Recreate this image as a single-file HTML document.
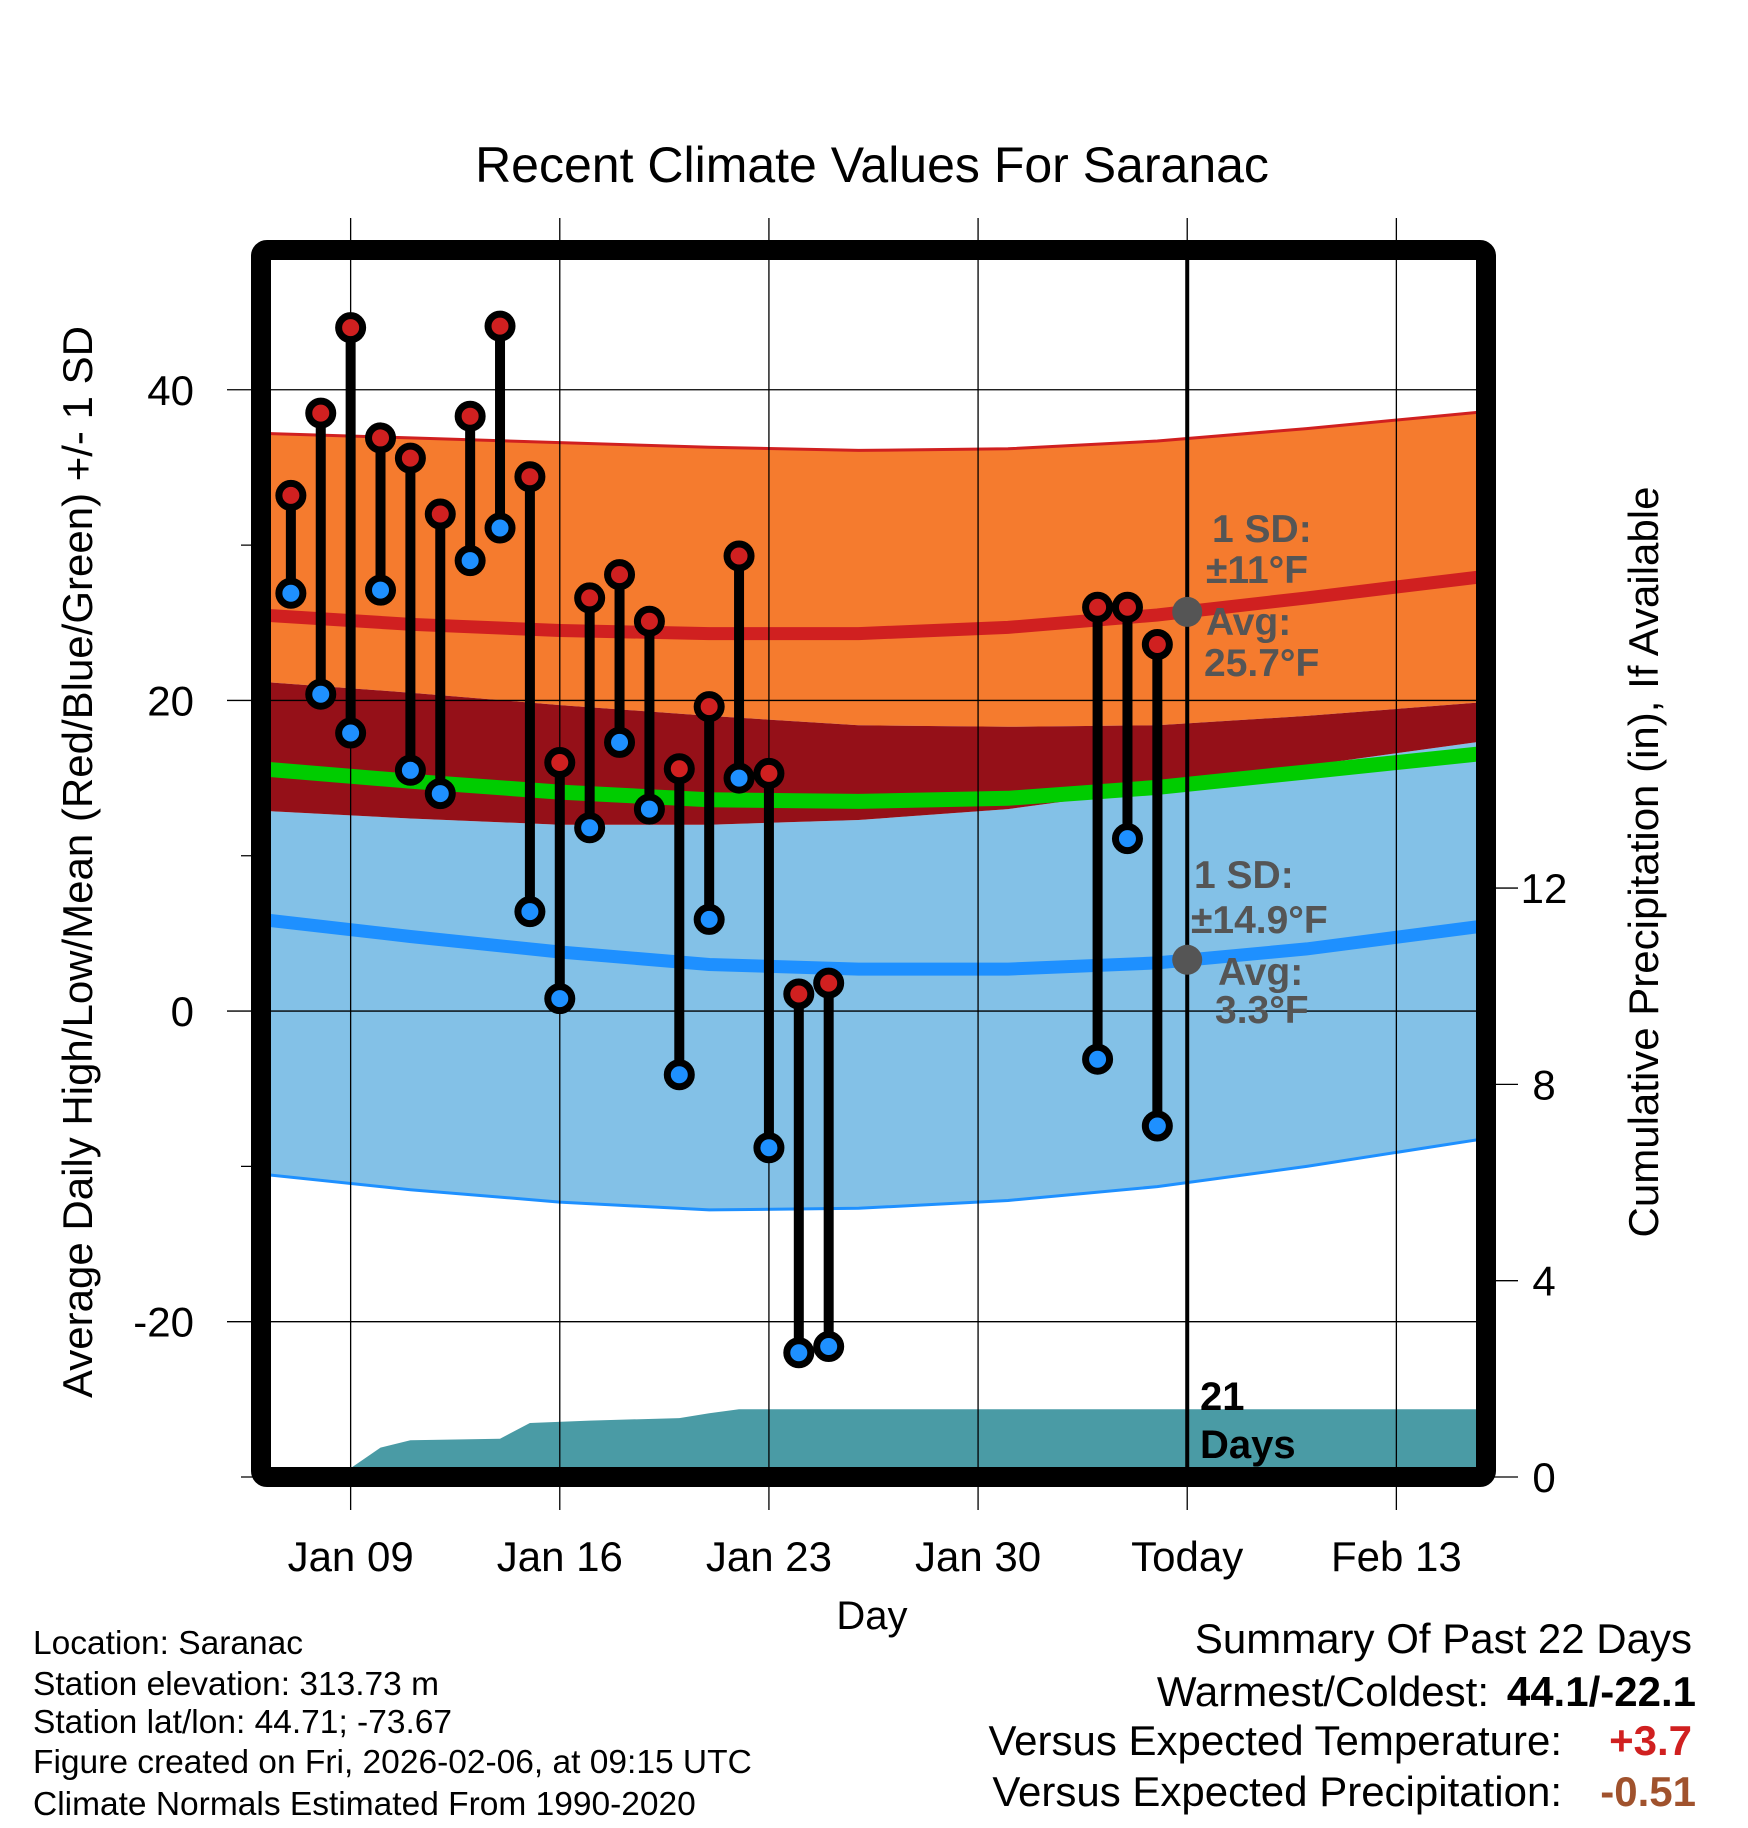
<!DOCTYPE html>
<html><head><meta charset="utf-8"><style>
html,body{margin:0;padding:0;background:#fff;}
svg{display:block;font-family:"Liberation Sans",Arial,sans-serif;}
</style></head><body>
<svg id="chart" width="1748" height="1828" viewBox="0 0 1748 1828" xmlns="http://www.w3.org/2000/svg">
<defs><clipPath id="plotclip"><rect x="271" y="260" width="1205" height="1207"/></clipPath></defs>
<g id="bands" clip-path="url(#plotclip)"></g>
<g id="grid"></g>
<g id="marks"></g>
<rect x="261" y="250" width="1225" height="1227" rx="6" fill="none" stroke="#000" stroke-width="20" stroke-linejoin="round"/>
<g id="labels"></g>
<text x="872" y="182" font-size="50" text-anchor="middle">Recent Climate Values For Saranac</text>
<text transform="translate(92,862) rotate(-90)" font-size="42" text-anchor="middle">Average Daily High/Low/Mean (Red/Blue/Green) +/- 1 SD</text>
<text transform="translate(1658,862) rotate(-90)" font-size="42" text-anchor="middle">Cumulative Precipitation (in), If Available</text>
<text x="872" y="1629" font-size="40" text-anchor="middle">Day</text>
<g font-size="33.5" fill="#000">
<text x="33" y="1654">Location: Saranac</text>
<text x="33" y="1695">Station elevation: 313.73 m</text>
<text x="33" y="1733">Station lat/lon: 44.71; -73.67</text>
<text x="33" y="1773">Figure created on Fri, 2026-02-06, at 09:15 UTC</text>
<text x="33" y="1815">Climate Normals Estimated From 1990-2020</text>
</g>
<g font-size="42" text-anchor="end">
<text x="1692" y="1653">Summary Of Past 22 Days</text>
<text x="1489" y="1706">Warmest/Coldest:</text>
<text x="1696" y="1706" font-weight="bold">44.1/-22.1</text>
<text x="1562" y="1755">Versus Expected Temperature:</text>
<text x="1692" y="1755" font-weight="bold" fill="#d02020">+3.7</text>
<text x="1562" y="1806">Versus Expected Precipitation:</text>
<text x="1696" y="1806" font-weight="bold" fill="#a0522d">-0.51</text>
</g>
<g font-size="39" font-weight="bold" fill="#555">
<text x="1212" y="542">1 SD:</text>
<text x="1206" y="583">±11°F</text>
<text x="1206" y="635">Avg:</text>
<text x="1204" y="676">25.7°F</text>
<text x="1194" y="888">1 SD:</text>
<text x="1191" y="933">±14.9°F</text>
<text x="1218" y="985">Avg:</text>
<text x="1215" y="1023">3.3°F</text>
<text x="1200" y="1410" fill="#000" font-size="40">21</text>
<text x="1200" y="1458" fill="#000" font-size="40">Days</text>
</g>
</svg>
<script>
// ---- data ----
const normDays = [-3, 2, 7, 12, 17, 22, 27, 32, 38];
const hiAvg = [25.5, 24.9, 24.5, 24.3, 24.3, 24.7, 25.5, 26.6, 28.0];
const hiUpper = [37.2, 36.9, 36.6, 36.3, 36.1, 36.2, 36.7, 37.5, 38.6];
const hiLower = [21.2, 20.5, 19.7, 19.0, 18.4, 18.3, 18.4, 19.0, 19.9];
const loAvg = [5.9, 4.8, 3.8, 3.0, 2.7, 2.7, 3.1, 4.0, 5.5];
const loUpper = [12.9, 12.4, 12.0, 12.0, 12.3, 13.0, 14.3, 15.8, 17.4];
const loLower = [-10.5, -11.5, -12.3, -12.8, -12.7, -12.2, -11.3, -10.0, -8.2];
const meanLine = [15.6, 14.8, 14.1, 13.6, 13.5, 13.7, 14.4, 15.4, 16.6];
const obsDays = [-2,-1,0,1,2,3,4,5,6,7,8,9,10,11,12,13,14,15,16,25,26,27];
const obsHigh = [33.2,38.5,44.0,36.9,35.6,32.0,38.3,44.1,34.4,16.0,26.6,28.1,25.1,15.6,19.6,29.3,15.3,1.1,1.8,26.0,26.0,23.6];
const obsLow = [26.9,20.4,17.9,27.1,15.5,14.0,29.0,31.1,6.4,0.8,11.8,17.3,13.0,-4.1,5.9,15.0,-8.8,-22.0,-21.6,-3.1,11.1,-7.4];
const precipDays = [-3,-0.5,0,1,2,5,6,8,11,12,13,38];
const precipVals = [0,0,0.18,0.6,0.75,0.78,1.1,1.15,1.2,1.3,1.38,1.38];
const xTickDays = [0,7,14,21,28,35];
const xTickLabels = ["Jan 09","Jan 16","Jan 23","Jan 30","Today","Feb 13"];
const yTicks = [40,20,0,-20];
const yMinor = [30,10,-10,-30];
const pTicks = [0,4,8,12];
const todayDay = 28;
const todayHi = 25.7, todayLo = 3.3;

// ---- axes ----
const X0=261, X1=1486, Y0=250, Y1=1477;
const xS = d => X0 + (d - (-3)) / 41 * (X1 - X0);
const yS = v => Y1 - (v - (-30)) / 79 * (Y1 - Y0);
const pS = v => Y1 - v / 25 * (Y1 - Y0);
const NS='http://www.w3.org/2000/svg';
function mk(tag, attrs, parent){const e=document.createElementNS(NS,tag);for(const k in attrs)e.setAttribute(k,attrs[k]);parent.appendChild(e);return e;}
const bands=document.getElementById('bands'), grid=document.getElementById('grid'), marks=document.getElementById('marks'), labels=document.getElementById('labels');
const line = arr => normDays.map((d,i)=>xS(d).toFixed(1)+','+yS(arr[i]).toFixed(1)).join(' ');
const poly = (a,b) => line(a)+' '+normDays.map((d,i)=>[d,i]).reverse().map(([d,i])=>xS(d).toFixed(1)+','+yS(b[i]).toFixed(1)).join(' ');

let e;
e=mk('polygon',{points:poly(hiUpper,hiLower),fill:'#f57b2e'},bands);


e=mk('polygon',{points:poly(loUpper,loLower),fill:'#83c1e7'},bands);


e=mk('polygon',{points:poly(hiLower,loUpper),fill:'#951018'},bands);


e=mk('polyline',{points:line(hiUpper),fill:'none',stroke:'#d02020','stroke-width':3},bands);


e=mk('polyline',{points:line(loLower),fill:'none',stroke:'#1e90ff','stroke-width':3},bands);


e=mk('polyline',{points:line(hiAvg),fill:'none',stroke:'#d02020','stroke-width':13},bands);


e=mk('polyline',{points:line(loAvg),fill:'none',stroke:'#1e90ff','stroke-width':13},bands);


e=mk('polyline',{points:line(meanLine),fill:'none',stroke:'#00cc00','stroke-width':15},bands);


// precip
let pp=precipDays.map((d,i)=>xS(d).toFixed(1)+','+pS(precipVals[i]).toFixed(1)).join(' ');
pp+=' '+xS(precipDays[precipDays.length-1]).toFixed(1)+','+pS(0)+' '+xS(precipDays[0]).toFixed(1)+','+pS(0);
e=mk('polygon',{points:pp,fill:'#4a9ba5'},bands);



// gridlines
xTickDays.forEach((d,i)=>{
  const x=xS(d);
  const g=mk('line',{x1:x,x2:x,y1:218,y2:1510,stroke:'#000','stroke-width':1.3},grid);
  
  
  const t=mk('text',{x:x,y:1571,'font-size':42,'text-anchor':'middle'},labels);
  t.textContent=xTickLabels[i];
  
  
});
yTicks.forEach(v=>{
  const y=yS(v);
  const g=mk('line',{x1:227,x2:X1,y1:y,y2:y,stroke:'#000','stroke-width':1.3},grid);
  
  
  const t=mk('text',{x:194,y:y+15,'font-size':42,'text-anchor':'end'},labels);
  t.textContent=String(v);
  
  
});
yMinor.forEach(v=>{
  const y=yS(v);
  const g=mk('line',{x1:241,x2:X0,y1:y,y2:y,stroke:'#000','stroke-width':1.3},grid);
  
  
});
pTicks.forEach(v=>{
  const y=pS(v);
  const g=mk('line',{x1:X1,x2:1518,y1:y,y2:y,stroke:'#000','stroke-width':1.3},grid);
  
  
  const t=mk('text',{x:1544,y:y+15,'font-size':42,'text-anchor':'middle'},labels);
  t.textContent=String(v);
  
  
});
// today line
e=mk('line',{x1:xS(todayDay),x2:xS(todayDay),y1:255,y2:Y1,stroke:'#000','stroke-width':4},grid);


e=mk('circle',{cx:xS(todayDay),cy:yS(todayHi),r:15,fill:'#555'},grid);


e=mk('circle',{cx:xS(todayDay),cy:yS(todayLo),r:15,fill:'#555'},grid);



// daily points
obsDays.forEach((d,i)=>{
  const x=xS(d), yh=yS(obsHigh[i]), yl=yS(obsLow[i]);
  const s=mk('line',{x1:x,x2:x,y1:yh,y2:yl,stroke:'#000','stroke-width':10},marks);
  
  
  const c1=mk('circle',{cx:x,cy:yh,r:12,fill:'#d02020',stroke:'#000','stroke-width':7},marks);
  
  
  const c2=mk('circle',{cx:x,cy:yl,r:12,fill:'#1e90ff',stroke:'#000','stroke-width':7},marks);
  
  
});
</script>
</body></html>
